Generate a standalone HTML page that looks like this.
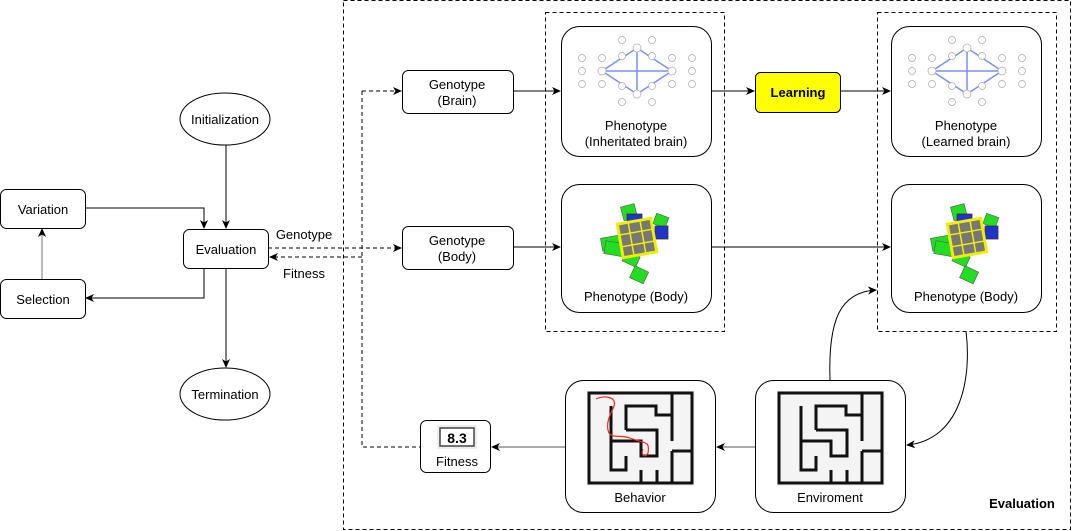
<!DOCTYPE html>
<html><head><meta charset="utf-8"><style>
body{margin:0;background:#fff;}
svg{display:block;font-family:"Liberation Sans",sans-serif;}
</style></head><body>
<svg width="1073" height="531" viewBox="0 0 1073 531" xmlns="http://www.w3.org/2000/svg">
<defs>
<marker id="a" markerWidth="10" markerHeight="10" refX="8" refY="5" orient="auto" markerUnits="userSpaceOnUse">
<path d="M0,1 L9,5 L0,9 L2.5,5 Z" fill="#000"/></marker>
<g id="maze" fill="none" stroke="#111" stroke-width="3">
<rect x="0" y="0" width="103" height="90"/>
<path d="M22,13 V77 H37 V63"/>
<path d="M37,37 V13 H67 V22 H83"/>
<path d="M83,0 V48 M83,58 V90 M83,58 H103"/>
<path d="M22,48 H52 V63 H68 V37 H37"/>
<path d="M52,77 V90 M68,77 V90"/>
</g>
<g id="brain">
<g stroke="#7a8ff5" stroke-width="1.5" fill="none">
<path d="M25,35 L60,12 L95,35 L60,58 Z M25,35 H95 M60,12 V58"/>
</g>
<g stroke="#aaa" stroke-width="0.7" fill="#fff">
<circle cx="25" cy="35" r="4"/><circle cx="95" cy="35" r="4"/><circle cx="60" cy="12" r="4"/><circle cx="60" cy="58" r="4"/>
<circle cx="5" cy="22" r="3.5"/><circle cx="5" cy="35" r="3.5"/><circle cx="5" cy="48" r="3.5"/>
<circle cx="115" cy="22" r="3.5"/><circle cx="115" cy="35" r="3.5"/><circle cx="115" cy="48" r="3.5"/>
<circle cx="25" cy="22" r="3.5"/><circle cx="95" cy="22" r="3.5"/><circle cx="25" cy="48" r="3.5"/><circle cx="95" cy="48" r="3.5"/>
<circle cx="45" cy="4" r="3.5"/><circle cx="75" cy="4" r="3.5"/><circle cx="45" cy="66" r="3.5"/><circle cx="75" cy="66" r="3.5"/>
<circle cx="45" cy="20" r="3.5"/><circle cx="75" cy="20" r="3.5"/><circle cx="45" cy="50" r="3.5"/><circle cx="75" cy="50" r="3.5"/>
</g>
<g fill="#bbb" font-size="3"><text x="35" y="30">...</text><text x="70" y="30">...</text><text x="35" y="45">...</text><text x="70" y="45">...</text></g>
</g>
<g id="robot">
<rect x="-8" y="-34" width="14" height="14" fill="#22dd22" stroke="#555" stroke-width="0.6" transform="rotate(-15)"/>
<rect x="-10" y="-24" width="15" height="15" fill="#2233cc" stroke="#333" stroke-width="0.8"/>
<rect x="10" y="-30" width="13" height="11" fill="#22dd22" stroke="#555" stroke-width="0.6" transform="rotate(20)"/>
<rect x="18" y="-12" width="13" height="13" fill="#2233cc" stroke="#333" stroke-width="0.8"/>
<rect x="-36" y="-6" width="24" height="13" fill="#22dd22" stroke="#555" stroke-width="0.6" transform="rotate(-10)"/>
<rect x="-30" y="8" width="20" height="13" fill="#22dd22" stroke="#555" stroke-width="0.6" transform="rotate(10)"/>
<rect x="-4" y="16" width="15" height="11" fill="#22dd22" stroke="#555" stroke-width="0.6" transform="rotate(25)"/>
<rect x="10" y="26" width="15" height="13" fill="#22dd22" stroke="#555" stroke-width="0.6" transform="rotate(25)"/>
<rect x="-17" y="-17" width="34" height="34" fill="#777" stroke="#ee0" stroke-width="3" transform="rotate(-10)"/>
<path d="M-6,-16 V16 M6,-16 V16 M-16,-6 H16 M-16,6 H16" stroke="#ee0" stroke-width="1.5" transform="rotate(-10)"/>
</g>
</defs>

<g fill="none" stroke="#000" stroke-width="1">
<ellipse cx="225" cy="119" rx="45" ry="26"/>
<ellipse cx="225" cy="394" rx="45" ry="26"/>
<rect x="0.5" y="189.5" width="85" height="39" rx="6"/>
<rect x="0.5" y="279.5" width="85" height="39" rx="6"/>
<rect x="183.5" y="229.5" width="85" height="39" rx="6"/>
<path d="M226,145 V228" marker-end="url(#a)"/>
<path d="M85,208 H204 V228" marker-end="url(#a)"/>
<path d="M204,268 V298 H86" marker-end="url(#a)"/>
<path d="M42,279 V229" stroke="#777" marker-end="url(#a)"/>
<path d="M226,268 V367" marker-end="url(#a)"/>

<g stroke-dasharray="4,3">
<rect x="343.5" y="0.5" width="727" height="529"/>
<rect x="545.5" y="12.5" width="179" height="319"/>
<rect x="877.5" y="12.5" width="179" height="319"/>
<path d="M268,248 H401" marker-end="url(#a)"/>
<path d="M362,257 H270" marker-end="url(#a)"/>
<path d="M362,91 V447 H420"/>
<path d="M362,91 H401" marker-end="url(#a)"/>
</g>

<rect x="402.5" y="70.5" width="111" height="43" rx="6"/>
<rect x="402.5" y="226.5" width="111" height="43" rx="6"/>
<rect x="561.5" y="26.5" width="150" height="130" rx="18"/>
<rect x="891.5" y="26.5" width="150" height="130" rx="18"/>
<rect x="561.5" y="184.5" width="150" height="128" rx="18"/>
<rect x="891.5" y="184.5" width="150" height="128" rx="18"/>
<rect x="755.5" y="72.5" width="85" height="40" rx="5" fill="#ffff00"/>
<rect x="565.5" y="380.5" width="150" height="132" rx="18"/>
<rect x="755.5" y="380.5" width="150" height="132" rx="18"/>
<rect x="420.5" y="420.5" width="70" height="52" rx="6"/>

<path d="M513,91 H560" marker-end="url(#a)"/>
<path d="M711,91 H754" marker-end="url(#a)"/>
<path d="M840,91 H890" marker-end="url(#a)"/>
<path d="M513,247 H560" marker-end="url(#a)"/>
<path d="M711,247 H890" marker-end="url(#a)"/>
<path d="M565,447 H492" stroke="#555" marker-end="url(#a)"/>
<path d="M755,447 H717" stroke="#555" marker-end="url(#a)"/>
<path d="M830,380 C828,320 840,292 876,290" marker-end="url(#a)"/>
<path d="M966,331 C972,380 960,440 907,445" marker-end="url(#a)"/>
</g>

<use href="#brain" x="577" y="36"/>
<use href="#brain" x="907" y="36"/>
<use href="#robot" x="637" y="238"/>
<use href="#robot" x="967" y="238"/>
<rect x="587" y="391" width="108" height="95" fill="#f4f4f4"/>
<use href="#maze" x="589" y="393"/>
<path d="M596,399 C605,395 617,397 614,406 C612,412 606,420 608,430 C610,440 620,434 630,438 C645,444 650,440 648,453 C646,458 640,456 643,449" fill="none" stroke="#f22" stroke-width="1.2"/>
<rect x="777" y="391" width="108" height="95" fill="#f4f4f4"/>
<use href="#maze" x="779" y="393"/>
<rect x="437" y="425" width="40" height="24" fill="#eee"/>
<rect x="440" y="428" width="34" height="18" fill="#fff" stroke="#444" stroke-width="1.5"/>

<g font-size="13" fill="#000" text-anchor="middle">
<text x="225" y="124">Initialization</text>
<text x="225" y="399">Termination</text>
<text x="43" y="214">Variation</text>
<text x="43" y="304">Selection</text>
<text x="226" y="254">Evaluation</text>
<text x="304" y="239">Genotype</text>
<text x="304" y="278">Fitness</text>
<text x="457" y="89">Genotype</text><text x="457" y="105">(Brain)</text>
<text x="457" y="245">Genotype</text><text x="457" y="261">(Body)</text>
<text x="636" y="130">Phenotype</text><text x="636" y="146">(Inheritated brain)</text>
<text x="966" y="130">Phenotype</text><text x="966" y="146">(Learned brain)</text>
<text x="636" y="301">Phenotype (Body)</text>
<text x="966" y="301">Phenotype (Body)</text>
<text x="798" y="97" font-weight="bold">Learning</text>
<text x="640" y="502">Behavior</text>
<text x="830" y="502">Enviroment</text>
<text x="457" y="466">Fitness</text>
<text x="457" y="443" font-weight="bold" font-size="14">8.3</text>
<text x="1022" y="508" font-weight="bold">Evaluation</text>
</g>
</svg>
</body></html>
